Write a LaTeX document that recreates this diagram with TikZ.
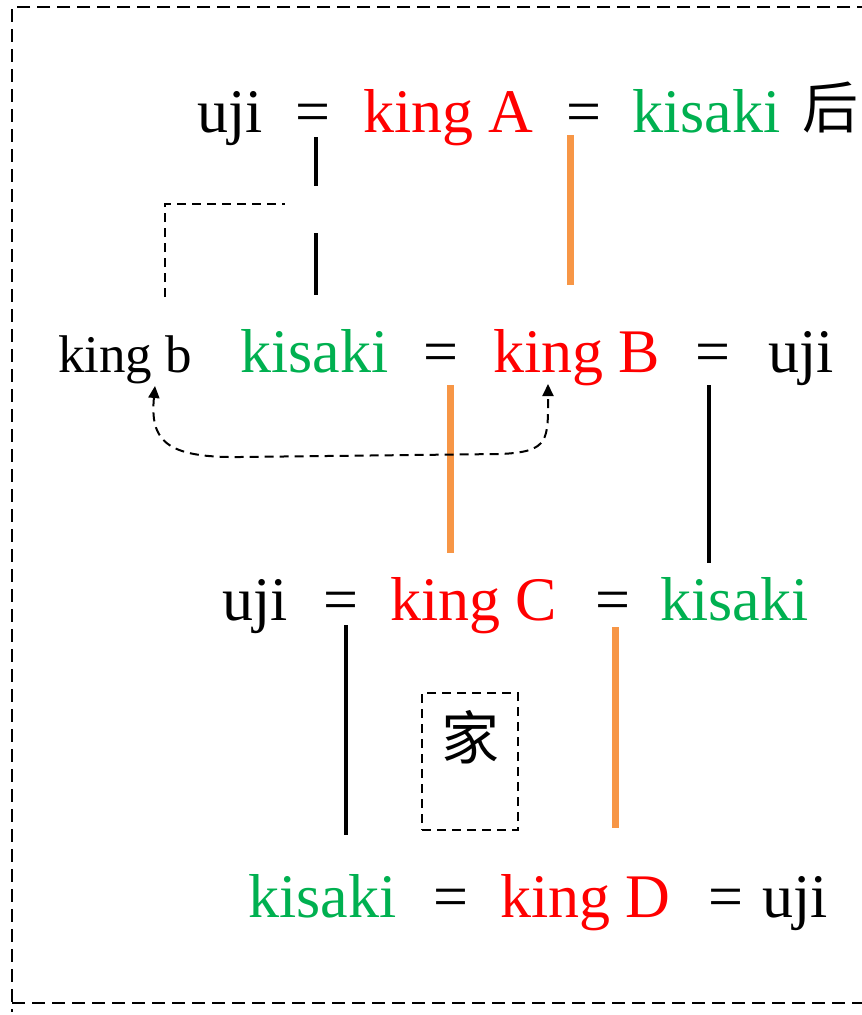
\documentclass[tikz,border=0pt]{standalone}
\usepackage{fontspec}
\setmainfont{Liberation Serif}
\newfontfamily\cjk{Noto Sans CJK SC}
\usetikzlibrary{positioning,arrows.meta}
\definecolor{kingred}{RGB}{255,0,0}
\definecolor{kisakigreen}{RGB}{0,176,80}
\definecolor{lineorange}{RGB}{247,150,70}
\tikzset{
	word/.style={anchor=base west,inner sep=0pt,font=\fontsize{62}{70}\selectfont},
	small word/.style={anchor=base west,inner sep=0pt,font=\fontsize{53}{60}\selectfont},
	king/.style={word,text=kingred},
	kisaki/.style={word,text=kisakigreen},
	stem/.style={line width=4pt,black},
	bloodline/.style={line width=7pt,lineorange},
	frame/.style={line width=1.8pt,dash pattern=on 13pt off 7pt},
	famline/.style={line width=2pt,dash pattern=on 9pt off 6pt}
}

\begin{document}
\begin{tikzpicture}[x=1pt,y=-1pt]
	\useasboundingbox (0,0) rectangle (862,1015);
	\draw[frame] (870,7) -- (12,7) -- (12,1012);
	\draw[frame] (12,1003) -- (870,1003);

	% row 1
	\node[word] (ujiA) at (197,132) {uji};
	\node[word] (eqA1) at (295,132) {=};
	\node[king] (kingA) at (363,132) {king A};
	\node[word] (eqA2) at (566,132) {=};
	\node[kisaki] (kisakiA) at (632,132) {kisaki};
	\node[word,font=\cjk\fontsize{56}{64}\selectfont] (hou) at (802,128) {后};

	% row 2
	\node[small word] (kingb) at (58,372) {king b};
	\node[kisaki] (kisakiB) at (240,372) {kisaki};
	\node[word] (eqB1) at (423,372) {=};
	\node[king] (kingB) at (493,372) {king B};
	\node[word] (eqB2) at (695,372) {=};
	\node[word] (ujiB) at (768,372) {uji};

	% row 3
	\node[word] (ujiC) at (222,620) {uji};
	\node[word] (eqC1) at (323,620) {=};
	\node[king] (kingC) at (390,620) {king C};
	\node[word] (eqC2) at (595,620) {=};
	\node[kisaki] (kisakiC) at (660,620) {kisaki};

	% row 4
	\node[kisaki] (kisakiD) at (248,917) {kisaki};
	\node[word] (eqD1) at (433,917) {=};
	\node[king] (kingD) at (500,917) {king D};
	\node[word] (eqD2) at (708,917) {=};
	\node[word] (ujiD) at (762,917) {uji};

	% descent lines
	\draw[stem] ([shift={(3,5)}]eqA1.south) -- ++(0,49);
	\draw[stem] ([shift={(3,101)}]eqA1.south) -- ++(0,62);
	\draw[bloodline] ([shift={(-13,3)}]eqA2.south) -- ++(0,150);
	\draw[bloodline] ([shift={(10,13)}]eqB1.south) -- ++(0,168);
	\draw[stem] ([shift={(-4,13)}]eqB2.south) -- ++(0,178);
	\draw[stem] ([shift={(5,5)}]eqC1.south) -- ++(0,210);
	\draw[bloodline] ([shift={(3,7)}]eqC2.south) -- ++(0,201);

	% king b
	\coordinate (brk) at (285,204);
	\draw[famline] ([shift={(-27,-38)}]kingb.north east) |- (brk);
	\draw[famline,{Triangle[length=12pt,width=11pt]}-{Triangle[length=12pt,width=11pt]}]
		(155,386) .. controls (150,440) and (165,458) .. (240,457)
		-- (500,454) .. controls (550,452) and (548,440) .. (548,384);

	% ie
	\node[famline,draw,minimum width=96pt,minimum height=137pt,anchor=north west] (iebox) at (421,692) {};
	\node[below=18pt of iebox.north,inner sep=0pt,font=\cjk\fontsize{58}{64}\selectfont] (ie) {家};
\end{tikzpicture}
\end{document}
